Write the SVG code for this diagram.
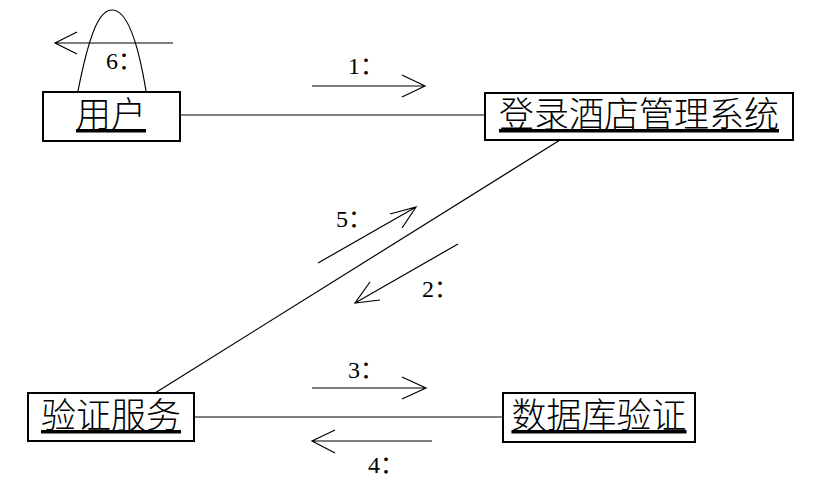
<svg xmlns="http://www.w3.org/2000/svg" width="825" height="483" viewBox="0 0 825 483">
<style>
.box{fill:#fff;stroke:#000;stroke-width:2}
.nt{font-family:"Noto Sans CJK SC",sans-serif;font-size:35px;font-weight:300;text-decoration:underline;fill:#000}
.ln{stroke:#000;stroke-width:1.2;fill:none}
.lb{font-family:"Liberation Serif","Noto Sans CJK SC",serif;font-size:24px;fill:#000}
</style>
<rect width="825" height="483" fill="#fff"/>
<g id="connectors">
<line class="ln" x1="180" y1="115" x2="485" y2="115"/>
<line class="ln" x1="560" y1="140" x2="155" y2="393"/>
<line class="ln" x1="194" y1="417" x2="503" y2="417"/>
<path class="ln" d="M78,91 C90,30 100,10 112,10 C124,10 136,30 146,91"/>
</g>
<g id="messages">
<g id="m6"><path class="ln" d="M173,43 H55 M77,32 L55,43 L77,54"/><text class="lb" x="106" y="69">6：</text></g>
<g id="m1"><path class="ln" d="M312,86 H425 M402,75 L425,86 L402,97"/><text class="lb" x="348" y="74">1：</text></g>
<g id="m5"><path class="ln" d="M318,263 L416,207 M390,214 L416,207 L402,228"/><text class="lb" x="336" y="227">5：</text></g>
<g id="m2"><path class="ln" d="M458,244 L355,303 M370,282 L355,303 L380,300"/><text class="lb" x="422" y="297">2：</text></g>
<g id="m3"><path class="ln" d="M312,388 H426 M402,377 L426,388 L402,399"/><text class="lb" x="348" y="378">3：</text></g>
<g id="m4"><path class="ln" d="M432,441 H312 M335,430 L312,441 L335,453"/><text class="lb" x="368" y="473">4：</text></g>
</g>
<g id="user"><rect class="box" x="43" y="92" width="137" height="49"/><text class="nt" x="111" y="127" text-anchor="middle">用户</text></g>
<g id="login"><rect class="box" x="485" y="93" width="308" height="47"/><text class="nt" x="639" y="127" text-anchor="middle">登录酒店管理系统</text></g>
<g id="auth"><rect class="box" x="28" y="393" width="166" height="48"/><text class="nt" x="111" y="428" text-anchor="middle">验证服务</text></g>
<g id="db"><rect class="box" x="503" y="393" width="192" height="49"/><text class="nt" x="599" y="428" text-anchor="middle">数据库验证</text></g>
</svg>
